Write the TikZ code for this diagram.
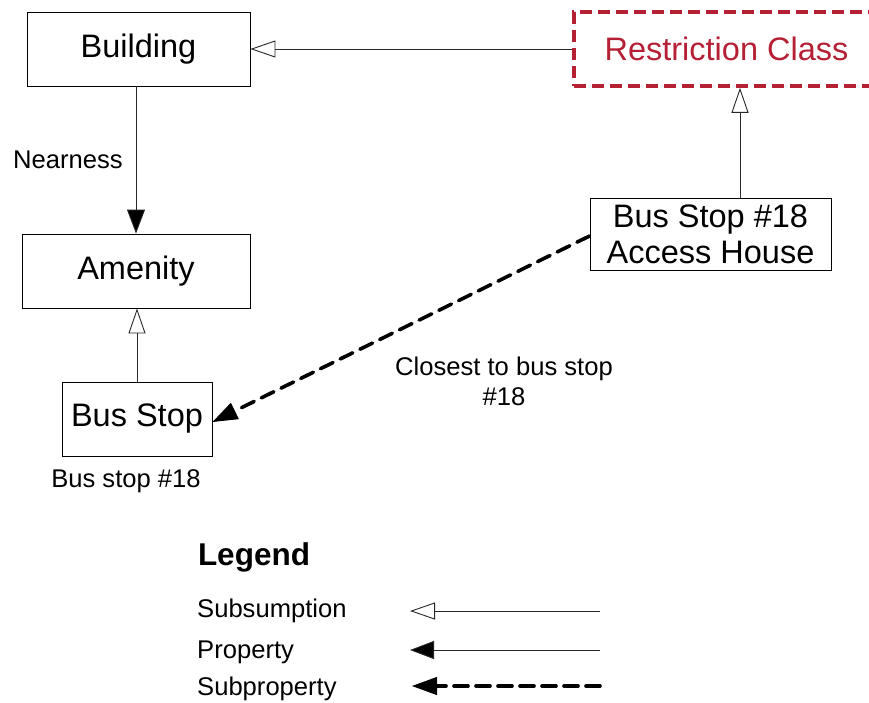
\documentclass[tikz,border=0pt]{standalone}
\usepackage{fontspec}
\setmainfont{Liberation Sans}
\usetikzlibrary{arrows.meta}
\definecolor{restred}{RGB}{182,32,52}
\definecolor{conn}{RGB}{40,40,40}
\tikzset{
  cls/.style={draw=black, line width=0.9pt, inner sep=0pt, font=\fontsize{32.5}{36}\selectfont, align=center},
  restr/.style={draw=restred, text=restred, line width=3.6pt, dash pattern=on 12pt off 6pt, inner sep=0pt, font=\fontsize{32.5}{36}\selectfont},
  lbl/.style={font=\fontsize{25.6}{30}\selectfont, align=center, inner sep=0pt},
  subsum/.style={draw=conn, line width=0.9pt, -{Triangle[open, length=25pt, width=17pt, line width=0.9pt]}},
  prop/.style={draw=conn, line width=0.9pt, -{Triangle[length=24pt, width=18pt, line width=0.9pt, fill=black]}},
  subprop/.style={draw=black, line width=3.6pt, dash pattern=on 14pt off 8pt, line cap=round, -{Triangle[length=25pt, width=18pt, line width=0.9pt, fill=black]}}
}
\begin{document}
\begin{tikzpicture}[x=1pt, y=-1pt]
\useasboundingbox (0,0) rectangle (869,702);
\fill[white] (0,0) rectangle (869,702);
% nodes
\node[cls, minimum width=223pt, minimum height=74pt] (building) at (138.5,49) {Building};
\node[restr, minimum width=305pt, minimum height=74pt] (restriction) at (726.5,49) {Restriction Class};
\node[cls, minimum width=228pt, minimum height=74pt] (amenity) at (136,271) {Amenity};
\node[cls, minimum width=150pt, minimum height=74pt] (busstop) at (137,419) {Bus Stop};
\node[cls, minimum width=241pt, minimum height=72pt] (access) at (710.5,234) {Bus Stop \#18\\Access House};
% labels
\node[lbl] (nearness) at (68,160) {Nearness};
\node[lbl] (closest) at (504,381) {Closest to bus stop\\\#18};
\node[lbl] (bs18) at (126,481) {Bus stop \#18};
% connectors
\draw[subsum] (restriction.west) -- (building.east);
\draw[prop] (building.south -| amenity.north) -- (amenity.north);
\draw[subsum] (busstop.north) -- (busstop.north |- amenity.south);
\coordinate (acctop) at ([xshift=29.5pt]access.north);
\draw[subsum] (acctop) -- (acctop |- restriction.south);
\draw[subprop] ([yshift=-2pt]access.west) -- ([yshift=-3pt]busstop.east);
% legend
\node[font=\bfseries\fontsize{31.5}{34}\selectfont, inner sep=0pt] (legend) at (254,557) {Legend};
\node[lbl, anchor=west] (lsub) at (197,611) {Subsumption};
\node[lbl, anchor=west] (lprop) at (197,652) {Property};
\node[lbl, anchor=west] (lsubp) at (197,689) {Subproperty};
\coordinate (l1s) at (600,611); \coordinate (l1e) at (410,611);
\coordinate (l2s) at (600,650); \coordinate (l2e) at (410,650);
\coordinate (l3s) at (600,686); \coordinate (l3e) at (412,686);
\draw[subsum] (l1s) -- (l1e);
\draw[prop] (l2s) -- (l2e);
\draw[subprop] (l3s) -- (l3e);
\end{tikzpicture}
\end{document}
